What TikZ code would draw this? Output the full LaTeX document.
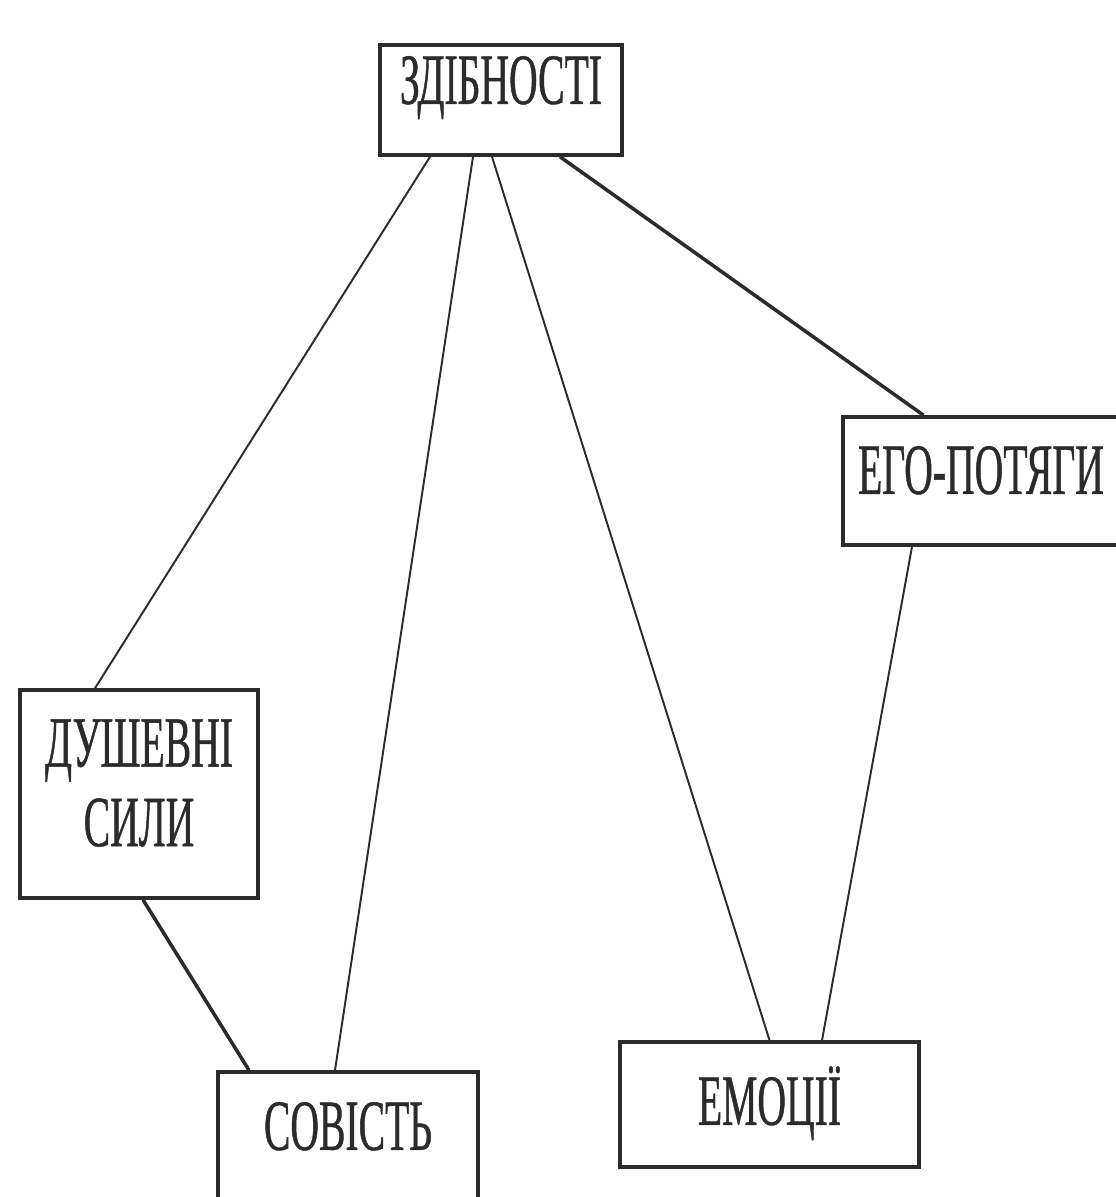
\documentclass[tikz,border=0pt]{standalone}
\usepackage{fontspec}
\newfontfamily\narrowserif[FakeStretch=0.55,FakeBold=0.6]{Liberation Serif}
\definecolor{ink}{HTML}{2B2B2B}

\begin{document}
\begin{tikzpicture}[
    box/.style={draw=ink,line width=2pt,rectangle,align=center,text=ink,
      font=\narrowserif\fontsize{41}{41}\selectfont,inner sep=0pt},
    link/.style={draw=ink,line width=1.1pt},
    strong link/.style={draw=ink,line width=2pt}]
  \useasboundingbox (0,0) rectangle (22.3,-23.94);
  \coordinate (Z) at (10.02,-2.0);
  \coordinate (E) at (19.62,-9.62);
  \coordinate (D) at (2.78,-15.88);
  \coordinate (S) at (6.96,-22.84);
  \coordinate (M) at (15.39,-22.09);

  \node[box,minimum width=4.84cm,minimum height=2.2cm,text depth=0.8cm] (zdib) at (Z) {ЗДІБНОСТІ};
  \node[box,minimum width=5.52cm,minimum height=2.56cm,text depth=0.44cm] (ego) at (E) {ЕГО-ПОТЯГИ};
  \node[box,minimum width=4.76cm,minimum height=4.16cm,text depth=0.45cm] (dush) at (D) {ДУШЕВНІ\\[0.15cm]СИЛИ};
  \node[box,minimum width=5.2cm,minimum height=2.8cm,text depth=0.64cm] (sov) at (S) {СОВІСТЬ};
  \node[box,minimum width=5.98cm,minimum height=2.5cm,text depth=0.36cm] (emo) at (M) {ЕМОЦІЇ};

  \draw[link] ([xshift=-1.42cm]zdib.south) -- ([xshift=-0.88cm]dush.north);
  \draw[link] ([xshift=-0.56cm]zdib.south) -- ([xshift=-0.26cm]sov.north);
  \draw[link] ([xshift=-0.18cm]zdib.south) -- (emo.north);
  \draw[strong link] ([xshift=1.18cm]zdib.south) -- ([xshift=-1.15cm]ego.north);
  \draw[link] ([xshift=-1.38cm]ego.south) -- ([xshift=1.05cm]emo.north);
  \draw[strong link] ([xshift=0.08cm]dush.south) -- ([xshift=-1.98cm]sov.north);
\end{tikzpicture}
\end{document}
